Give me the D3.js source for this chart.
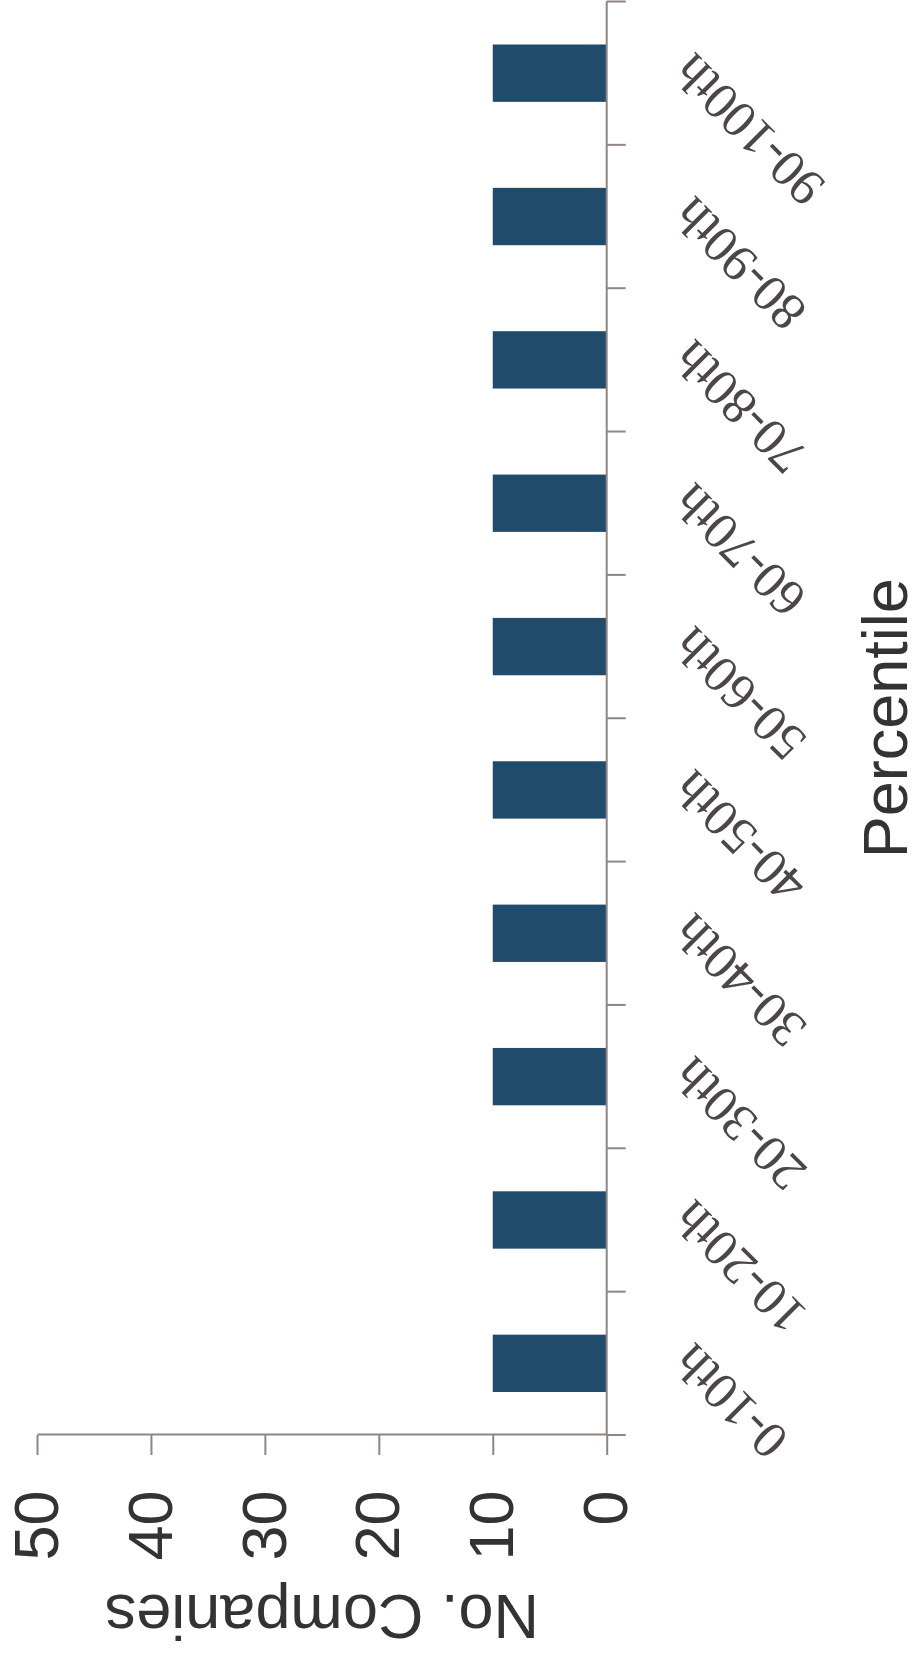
<!DOCTYPE html>
<html>
<head>
<meta charset="utf-8">
<script src="https://cdn.jsdelivr.net/npm/d3@7"></script>
<style>
  body { margin: 0; background: #fff; }
  svg { display: block; }
</style>
</head>
<body>
<script>
// percentile buckets, number of companies in each
var categories = ['0-10th', '10-20th', '20-30th', '30-40th', '40-50th',
                  '50-60th', '60-70th', '70-80th', '80-90th', '90-100th'];
var counts = [10, 10, 10, 10, 10, 10, 10, 10, 10, 10];
var valueTicks = [0, 10, 20, 30, 40, 50];

var WIDTH = 915, HEIGHT = 1659;

// the whole chart is drawn upright and then turned a quarter turn
// ... so inside the group "width" is the page height
var LEFT = 224, RIGHT = 1657.5, TOP = 37, AXIS_Y = 606.7;

var AXIS_COLOR = '#8f8583';
var BAR_COLOR = '#204b6a';

var svg = d3.select('body')
	.append('svg')
	.attr('width', WIDTH)
	.attr('height', HEIGHT);

var g = svg.append('g')
	.attr('transform', 'translate(0,' + HEIGHT + ') rotate(-90)');

var x = d3.scaleBand()
	.domain(categories)
	.range([LEFT, RIGHT])
	.paddingInner(0.6)
	.paddingOuter(0.3);

var y = d3.scaleLinear()
	.domain([0, 50])
	.range([AXIS_Y, TOP]);

// ------------------------ BARS ------------------------
g.selectAll('rect.bar')
	.data(counts)
	.enter()
	.append('rect')
	.attr('class', 'bar')
	.attr('x', function(d, i) { return x(categories[i]); })
	.attr('width', x.bandwidth())
	.attr('y', function(d) { return y(d); })
	.attr('height', function(d) { return y(0) - y(d); })
	.attr('fill', BAR_COLOR);

// ------------------------ VALUE AXIS ------------------------
var yAxis = g.append('g')
	.attr('transform', 'translate(' + LEFT + ',0)')
	.call(d3.axisLeft(y).tickValues(valueTicks).tickSize(20).tickSizeOuter(0).tickPadding(35.5));

yAxis.select('.domain').attr('stroke', AXIS_COLOR).attr('stroke-width', 2);
yAxis.selectAll('.tick line').attr('stroke', AXIS_COLOR).attr('stroke-width', 2);
yAxis.selectAll('.tick text')
	.attr('font-family', "'Liberation Sans', Arial, sans-serif")
	.style('font-size', '63px')
	.attr('fill', '#333336');

// ------------------------ CATEGORY AXIS ------------------------
// ticks sit on the band edges, not the centres
var gap = (x.step() - x.bandwidth()) / 2;
var edges = categories.map(function(c) { return x(c) - gap; });
edges.push(x(categories[categories.length - 1]) + x.bandwidth() + gap);

g.append('line')
	.attr('x1', LEFT).attr('x2', RIGHT)
	.attr('y1', AXIS_Y).attr('y2', AXIS_Y)
	.attr('stroke', AXIS_COLOR).attr('stroke-width', 2);

g.selectAll('line.edge')
	.data(edges)
	.enter()
	.append('line')
	.attr('class', 'edge')
	.attr('x1', function(d) { return d; })
	.attr('x2', function(d) { return d; })
	.attr('y1', AXIS_Y)
	.attr('y2', AXIS_Y + 19)
	.attr('stroke', AXIS_COLOR).attr('stroke-width', 2);

g.selectAll('text.cat')
	.data(categories)
	.enter()
	.append('text')
	.attr('class', 'cat')
	.attr('transform', function(d) {
		return 'translate(' + (x(d) + x.bandwidth() / 2 + 22) + ',' + (AXIS_Y + 88) + ') rotate(-45)';
	})
	.attr('text-anchor', 'end')
	.attr('font-family', "'Liberation Serif', 'Times New Roman', serif")
	.style('font-size', '52px')
	.attr('fill', '#4d4646')
	.text(function(d) { return d; });

// ------------------------ AXIS TITLES ------------------------
g.append('text')
	.attr('transform', 'translate(64,' + ((AXIS_Y + TOP) / 2) + ') rotate(-90)')
	.attr('text-anchor', 'middle')
	.attr('font-family', "'Liberation Sans', Arial, sans-serif")
	.style('font-size', '63px')
	.attr('fill', '#333336')
	.text('No. Companies');

g.append('text')
	.attr('x', (LEFT + RIGHT) / 2)
	.attr('y', 907)
	.attr('text-anchor', 'middle')
	.attr('font-family', "'Liberation Sans', Arial, sans-serif")
	.style('font-size', '63px')
	.attr('fill', '#333336')
	.text('Percentile');
</script>
</body>
</html>
